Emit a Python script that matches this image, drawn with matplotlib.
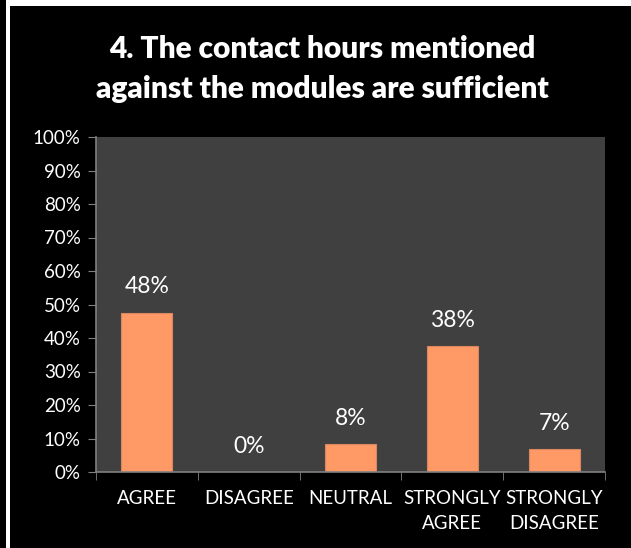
import matplotlib.pyplot as plt
from matplotlib.patches import Rectangle

categories = ['AGREE', 'DISAGREE', 'NEUTRAL', 'STRONGLY\nAGREE', 'STRONGLY\nDISAGREE']
values = [0.476, 0.0, 0.083, 0.376, 0.068]
labels = ['48%', '0%', '8%', '38%', '7%']
yticks = [i / 10 for i in range(11)]

plt.rcParams['font.family'] = ['Lato', 'DejaVu Sans']

fig = plt.figure(figsize=(6.31, 5.48), dpi=100, facecolor='black')

# white frame strips (left and top)
fig.patches.append(Rectangle((6 / 631, 0), 4 / 631, 1, transform=fig.transFigure,
                             facecolor='white', edgecolor='none', zorder=0))
fig.patches.append(Rectangle((6 / 631, 1 - 6 / 548), 1, 6 / 548, transform=fig.transFigure,
                             facecolor='white', edgecolor='none', zorder=0))

ax = fig.add_axes([96 / 631, 1 - 472 / 548, (605 - 96) / 631, (472 - 137) / 548])
ax.set_facecolor('#404040')

x = range(len(categories))
ax.bar(x, values, width=0.5, color='#ff9966', edgecolor='#d9875e', linewidth=0.8)
for xi, v, lab in zip(x, values, labels):
    ax.annotate(lab, (xi, v), xytext=(0, 11), textcoords='offset points',
                ha='center', va='bottom', color='white', fontsize=16.5)

ax.set_xlim(-0.5, len(categories) - 0.5)
ax.set_ylim(0, 1)
ax.set_yticks(yticks)
ax.set_yticklabels([f'{int(round(t * 100))}%' for t in yticks])
ax.set_xticks(x)
ax.set_xticklabels(categories, linespacing=1.6)
ax.set_xticks([i - 0.5 for i in range(len(categories) + 1)], minor=True)
ax.tick_params(axis='x', which='major', length=0, pad=13, colors='white', labelsize=13.5)
ax.tick_params(axis='x', which='minor', length=6, color='#808080', direction='out')
ax.tick_params(axis='y', length=6, color='#808080', colors='white', labelsize=13.5, pad=5)

for side in ['top', 'right']:
    ax.spines[side].set_visible(False)
for side in ['left', 'bottom']:
    ax.spines[side].set_color('#808080')
    ax.spines[side].set_linewidth(1.2)

fig.text(0.511, 1 - 69 / 548, '4. The contact hours mentioned\nagainst the modules are sufficient',
         ha='center', va='center', color='white', fontsize=21.5, fontweight='heavy',
         linespacing=1.55)

fig.savefig('out.png', dpi=100, facecolor='black')
